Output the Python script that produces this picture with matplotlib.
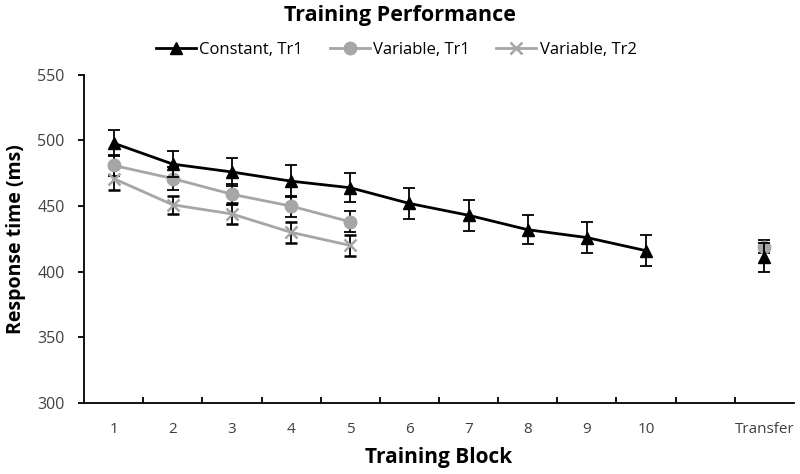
import matplotlib.pyplot as plt
from matplotlib.lines import Line2D

plt.rcParams['font.family'] = ['Open Sans', 'DejaVu Sans']

blocks = [1, 2, 3, 4, 5, 6, 7, 8, 9, 10]
tick_labels = ['1', '2', '3', '4', '5', '6', '7', '8', '9', '10', '', 'Transfer']
transfer_pos = 12

const_tr1 = [498, 482, 476, 469, 464, 452, 443, 432, 426, 416]
const_tr1_err = [10, 10, 11, 12, 11, 12, 12, 11, 12, 12]
var_tr1 = [481, 471, 459, 450, 438]
var_tr1_err = [8, 9, 8, 8, 8]
var_tr2 = [471, 451, 444, 430, 420]
var_tr2_err = [9, 7, 8, 8, 8]

const_transfer = 411
const_transfer_err = 11
var_transfer = 419
var_transfer_err = 5

black = '#000000'
gray = '#a6a6a6'

fig = plt.figure(figsize=(8, 4.74), dpi=100)
ax = fig.add_axes([0.105, 0.150, 0.8875, 0.692])

ekw = dict(ecolor='black', elinewidth=1.3, capsize=4, capthick=1.3)

ax.errorbar(blocks, const_tr1, yerr=const_tr1_err, color=black, lw=2,
            marker='^', ms=9, zorder=3, **ekw)
ax.errorbar(blocks[:5], var_tr1, yerr=var_tr1_err, color=gray, lw=2,
            marker='o', ms=9, zorder=2, **ekw)
ax.errorbar(blocks[:5], var_tr2, yerr=var_tr2_err, color=gray, lw=2,
            marker='x', ms=8, mew=1.8, zorder=2, **ekw)

# transfer block
ax.errorbar([transfer_pos], [const_transfer], yerr=[const_transfer_err],
            color=black, marker='^', ms=9, ls='none', zorder=3, **ekw)
ax.errorbar([transfer_pos], [var_transfer], yerr=[var_transfer_err],
            color=gray, marker='o', ms=9, ls='none', zorder=2, **ekw)

ax.set_xlim(0.5, 12.5)
ax.set_ylim(300, 550)
ax.set_yticks(range(300, 551, 50))
ax.set_xticks(range(1, 13))
ax.set_xticklabels(tick_labels)
ax.set_xticks([i + 0.5 for i in range(1, 12)], minor=True)
ax.tick_params(axis='x', which='major', length=0, pad=14, labelsize=11,
               labelcolor='#404040')
ax.tick_params(axis='x', which='minor', direction='in', length=4, width=1.3)
ax.tick_params(axis='y', direction='out', length=4, width=1.3, labelsize=11.5,
               pad=10, labelcolor='#404040')

for s in ['top', 'right']:
    ax.spines[s].set_visible(False)
for s in ['left', 'bottom']:
    ax.spines[s].set_linewidth(1.3)

ax.set_xlabel('Training Block', fontsize=15, fontweight='bold', labelpad=7)
ax.set_ylabel('Response time (ms)', fontsize=14, fontweight='bold', labelpad=8)

fig.suptitle('Training Performance', fontsize=15.5, fontweight='bold', y=0.99)

handles = [
    Line2D([], [], color=black, lw=2, marker='^', ms=9),
    Line2D([], [], color=gray, lw=2, marker='o', ms=9),
    Line2D([], [], color=gray, lw=2, marker='x', ms=8, mew=1.8),
]
labels = ['Constant, Tr1', 'Variable, Tr1', 'Variable, Tr2']
ax.legend(handles, labels, loc='lower center', bbox_to_anchor=(0.44, 1.0),
          ncol=3, frameon=False, fontsize=12, handlelength=2.4,
          handletextpad=0.2, columnspacing=1.6, borderaxespad=0.6)

plt.savefig('out.png')
